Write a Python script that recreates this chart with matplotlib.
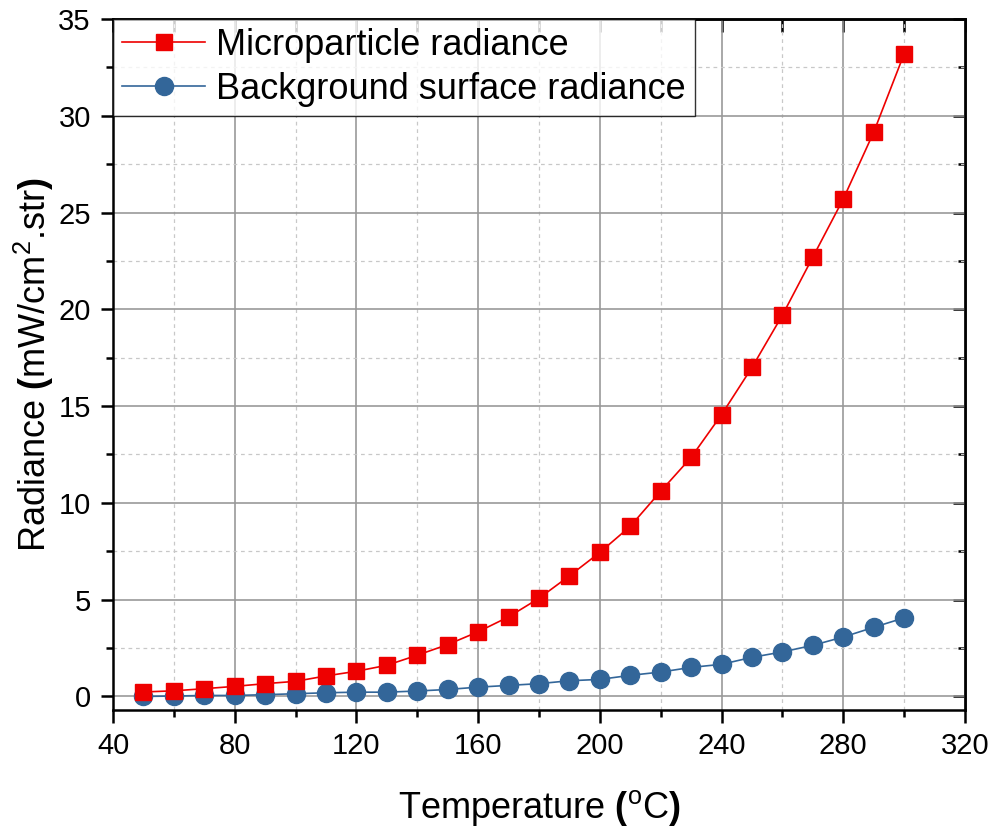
import matplotlib
matplotlib.use("Agg")
import matplotlib.pyplot as plt
from matplotlib.ticker import MultipleLocator

# Data
temperature = [50, 60, 70, 80, 90, 100, 110, 120, 130, 140, 150, 160, 170,
               180, 190, 200, 210, 220, 230, 240, 250, 260, 270, 280, 290, 300]
microparticle = [0.23, 0.29, 0.40, 0.52, 0.66, 0.78, 1.06, 1.30, 1.61, 2.13,
                 2.68, 3.34, 4.11, 5.07, 6.23, 7.44, 8.79, 10.6, 12.35, 14.56,
                 17.0, 19.7, 22.7, 25.7, 29.15, 33.2]
background = [0.0, 0.02, 0.05, 0.05, 0.09, 0.14, 0.19, 0.22, 0.22, 0.28,
              0.36, 0.48, 0.57, 0.66, 0.81, 0.88, 1.09, 1.26, 1.50, 1.66,
              2.02, 2.30, 2.64, 3.07, 3.57, 4.06]

plt.rcParams["font.family"] = ["Liberation Sans", "DejaVu Sans"]
plt.rcParams["mathtext.fontset"] = "custom"
plt.rcParams["mathtext.rm"] = "Liberation Sans"
plt.rcParams["mathtext.it"] = "Liberation Sans:italic"
plt.rcParams["mathtext.bf"] = "Liberation Sans:bold"

fig = plt.figure(figsize=(9.94, 8.27), dpi=100)
ax = fig.add_axes([0.1137, 0.1415, 0.8571, 0.8355])

ax.plot(temperature, microparticle, color="#ee0000", lw=1.2, marker="s",
        markersize=11.5, label="Microparticle radiance", zorder=4)
ax.plot(temperature, background, color="#336699", lw=1.2, marker="o",
        markersize=13, label="Background surface radiance", zorder=3)

ax.set_xlim(40, 320)
ax.set_ylim(-0.7, 35)
ax.xaxis.set_major_locator(MultipleLocator(40))
ax.xaxis.set_minor_locator(MultipleLocator(20))
ax.yaxis.set_major_locator(MultipleLocator(5))
ax.yaxis.set_minor_locator(MultipleLocator(2.5))

# grid
ax.grid(which="major", color="#999999", lw=1.2, zorder=0)
ax.grid(which="minor", color="#c8c8c8", lw=0.9, ls=(0, (3, 3)), zorder=0)
ax.set_axisbelow(True)

for s in ax.spines.values():
    s.set_linewidth(1.8)

ax.tick_params(which="major", direction="out", length=9, width=1.8,
               labelsize=21, pad=7)
ax.tick_params(which="minor", direction="out", length=5, width=1.8)

# mirrored ticks on top and right, pointing inward
sec_x = ax.secondary_xaxis("top")
sec_x.xaxis.set_major_locator(MultipleLocator(40))
sec_x.xaxis.set_minor_locator(MultipleLocator(20))
sec_x.tick_params(which="both", direction="in", length=9, width=1.8,
                  labeltop=False)
sec_x.spines["top"].set_linewidth(1.8)
sec_y = ax.secondary_yaxis("right")
sec_y.yaxis.set_major_locator(MultipleLocator(5))
sec_y.yaxis.set_minor_locator(MultipleLocator(2.5))
sec_y.tick_params(which="major", direction="in", length=9, width=1.8,
                  labelright=False)
sec_y.tick_params(which="minor", direction="in", length=5, width=1.8,
                  labelright=False)
sec_y.spines["right"].set_linewidth(1.8)

ax.set_xlabel(r"Temperature $\mathbf{(}^{\mathrm{o}}$C$\mathbf{)}$",
              fontsize=26, labelpad=20)
ax.set_ylabel(r"Radiance $\mathbf{(}$mW/cm$^{2}$.str$\mathbf{)}$",
              fontsize=26, labelpad=2)

leg = ax.legend(loc="upper left", bbox_to_anchor=(0, 1), fontsize=26,
                frameon=True, fancybox=False, borderaxespad=0,
                handlelength=2.3, handletextpad=0.3, borderpad=0.25,
                labelspacing=0.25)
leg.get_frame().set_edgecolor("black")
leg.get_frame().set_linewidth(1.0)

fig.savefig("out.png", dpi=100)
